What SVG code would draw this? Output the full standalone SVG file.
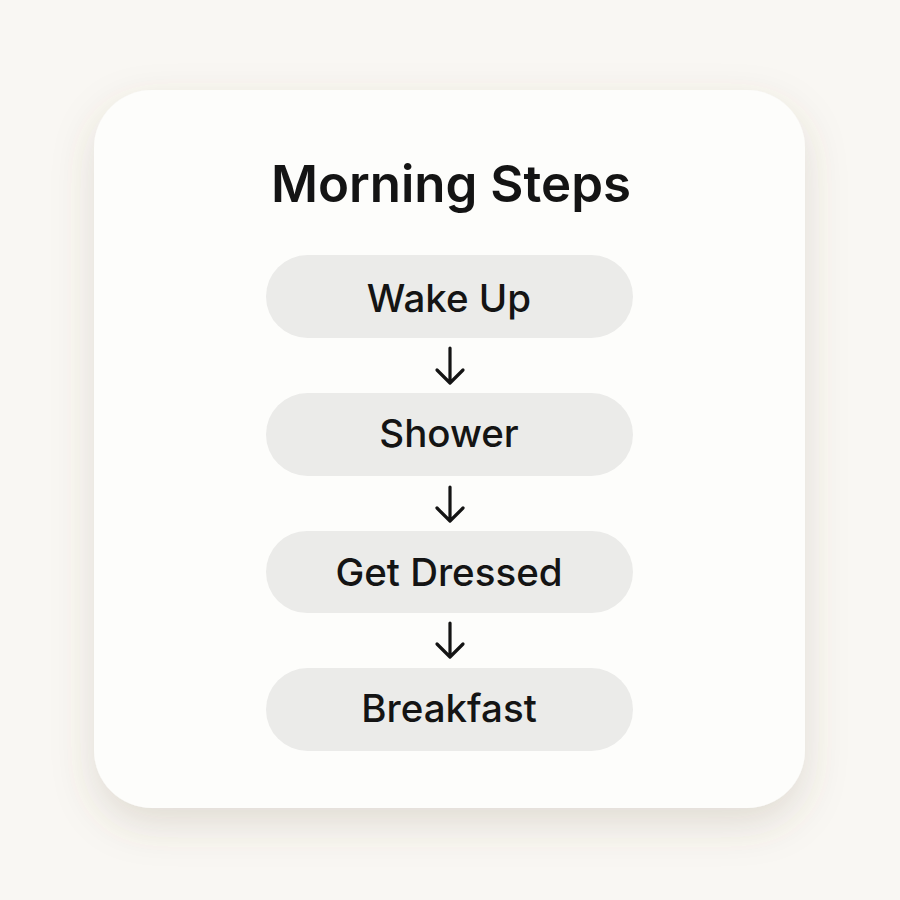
<svg xmlns="http://www.w3.org/2000/svg" width="900" height="900" viewBox="0 0 900 900">
<defs>
<filter id="shadow" x="-20%" y="-20%" width="140%" height="150%">
<feDropShadow dx="0" dy="16" stdDeviation="20" flood-color="#6b5a40" flood-opacity="0.17"/>
</filter>
<style>
.title{font-family:Inter,"Liberation Sans",sans-serif;font-size:51px;font-weight:600;fill:#141414;text-anchor:middle}
.pill{fill:#ebebe9}
.lbl{font-family:Inter,"Liberation Sans",sans-serif;font-size:38.5px;font-weight:450;fill:#141414;text-anchor:middle}
.arr{fill:none;stroke:#141414;stroke-width:3.2;stroke-linecap:round;stroke-linejoin:round}
</style>
</defs>
<rect width="900" height="900" fill="#f9f7f3"/>
<rect id="card" x="94" y="90" width="711" height="718" rx="58" fill="#fdfdfb" filter="url(#shadow)"/>
<text class="title" x="451" y="202">Morning Steps</text>
<g id="connectors">
<path class="arr" d="M450 348 V382 M437 370 L450 383 L463 370"/>
<path class="arr" d="M450 487 V520 M437 508 L450 521 L463 508"/>
<path class="arr" d="M450 623 V656 M437 644 L450 657 L463 644"/>
</g>
<g id="n1"><rect class="pill" x="266" y="255" width="367" height="83" rx="41.5"/><text class="lbl" x="449" y="312">Wake Up</text></g>
<g id="n2"><rect class="pill" x="266" y="393" width="367" height="83" rx="41.5"/><text class="lbl" x="449" y="447">Shower</text></g>
<g id="n3"><rect class="pill" x="266" y="531" width="367" height="82" rx="41"/><text class="lbl" x="449" y="586">Get Dressed</text></g>
<g id="n4"><rect class="pill" x="266" y="668" width="367" height="83" rx="41.5"/><text class="lbl" x="449" y="722">Breakfast</text></g>
</svg>
